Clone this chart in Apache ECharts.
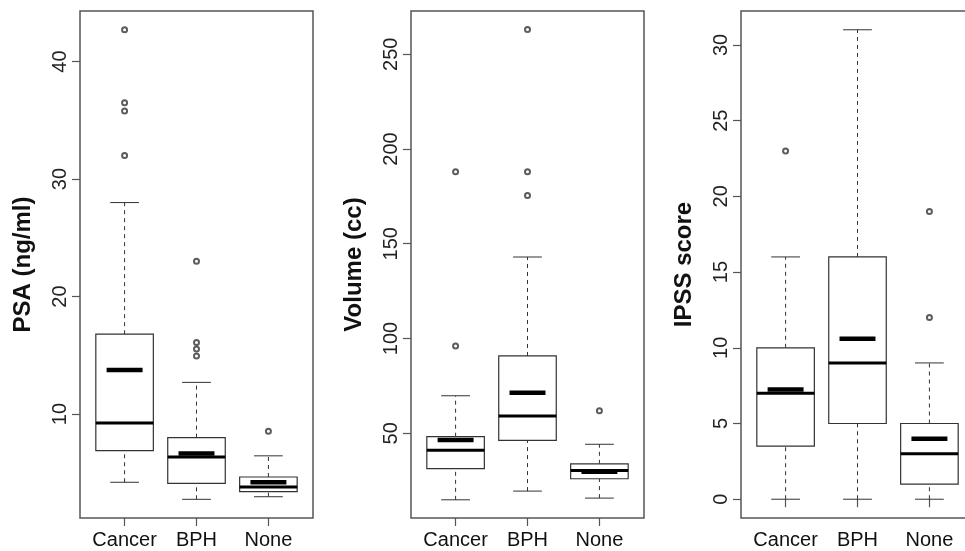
<!DOCTYPE html>
<html>
<head>
<meta charset="utf-8">
<title>PSA, Volume, IPSS</title>
<script src="https://cdn.jsdelivr.net/npm/echarts@6/dist/echarts.min.js"></script>
<style>
	html, body { margin: 0; padding: 0; background: #fff; }
	#chart { width: 965px; height: 551px; }
</style>
</head>
<body>
<div id="chart"></div>
<script>
var categories = ['Cancer', 'BPH', 'None'];

// PSA (ng/ml)
var psaLow = [4.2, 2.75, 2.97];
var psaQ1 = [6.9, 4.1, 3.4];
var psaMedian = [9.25, 6.35, 3.8];
var psaQ3 = [16.8, 8.0, 4.65];
var psaHigh = [28.0, 12.7, 6.45];
var psaMean = [13.75, 6.65, 4.2];
var psaOutliers = [[1, 42.7], [1, 36.5], [1, 35.8], [1, 32.0], [2, 23.0], [2, 16.1], [2, 15.55], [2, 14.95], [3, 8.55]];
var psaTicks = [10, 20, 30, 40];

// Volume (cc)
var volLow = [14.9, 19.5, 15.8];
var volQ1 = [31.3, 46.3, 26.0];
var volMedian = [41.0, 59.1, 30.4];
var volQ3 = [48.2, 90.8, 33.9];
var volHigh = [69.8, 143.0, 44.2];
var volMean = [46.4, 71.4, 29.7];
var volOutliers = [[1, 188], [1, 96], [2, 263], [2, 188], [2, 175.4], [3, 61.9]];
var volTicks = [50, 100, 150, 200, 250];

// IPSS score
var ipssLow = [0, 0, 0];
var ipssQ1 = [3.5, 5, 1];
var ipssMedian = [7, 9, 3];
var ipssQ3 = [10, 16, 5];
var ipssHigh = [16, 31, 9];
var ipssMean = [7.25, 10.6, 4.0];
var ipssOutliers = [[1, 23], [3, 19], [3, 12]];
var ipssTicks = [0, 5, 10, 15, 20, 25, 30];

;(function () {
	var FONT = '"Liberation Sans", Arial, sans-serif';
	var panels = [
		{name: 'PSA (ng/ml)', left: 80, min: 1.16, max: 44.3, ticks: psaTicks,
			low: psaLow, q1: psaQ1, med: psaMedian, q3: psaQ3, high: psaHigh, mean: psaMean, out: psaOutliers},
		{name: 'Volume (cc)', left: 411, min: 5.3, max: 272.8, ticks: volTicks,
			low: volLow, q1: volQ1, med: volMedian, q3: volQ3, high: volHigh, mean: volMean, out: volOutliers},
		{name: 'IPSS score', left: 741, min: -1.24, max: 32.24, ticks: ipssTicks,
			low: ipssLow, q1: ipssQ1, med: ipssMedian, q3: ipssQ3, high: ipssHigh, mean: ipssMean, out: ipssOutliers}
	];

	var renderBox = function (params, api) {
		var x = api.value(0);
		var lo = api.value(1), q1 = api.value(2), med = api.value(3), q3 = api.value(4), hi = api.value(5), mean = api.value(6);
		var line = function (x1, y1, x2, y2, style) {
			var a = api.coord([x1, y1]), b = api.coord([x2, y2]);
			return {type: 'line', shape: {x1: a[0], y1: a[1], x2: b[0], y2: b[1]}, style: style};
		};
		var dash = {stroke: '#333', lineWidth: 1, lineDash: [4, 4]};
		var thin = {stroke: '#333', lineWidth: 1};
		var tl = api.coord([x - 0.4, q3]), br = api.coord([x + 0.4, q1]);
		return {
			type: 'group',
			children: [
				line(x, q3, x, hi, dash),
				line(x, lo, x, q1, dash),
				line(x - 0.2, hi, x + 0.2, hi, thin),
				line(x - 0.2, lo, x + 0.2, lo, thin),
				{type: 'rect', shape: {x: tl[0], y: tl[1], width: br[0] - tl[0], height: br[1] - tl[1]},
					style: {fill: '#fff', stroke: '#333', lineWidth: 1.2}},
				line(x - 0.4, med, x + 0.4, med, {stroke: '#000', lineWidth: 3}),
				line(x - 0.25, mean, x + 0.25, mean, {stroke: '#000', lineWidth: 4.5})
			]
		};
	};

	var grid = [], xAxis = [], yAxis = [], series = [];
	for (var i = 0; i < panels.length; i++) {
		var p = panels[i];
		grid.push({left: p.left, top: 11, width: 233, height: 507, show: true, outerBoundsMode: 'none',
			borderColor: '#555', borderWidth: 1.5, backgroundColor: 'transparent'});
		xAxis.push({
			type: 'value', gridIndex: i, min: 0.38, max: 3.62,
			axisLine: {show: false},
			splitLine: {show: false},
			axisTick: {show: true, length: 8, customValues: [1, 2, 3], lineStyle: {color: '#555', width: 1.2}},
			axisLabel: {show: true, customValues: [1, 2, 3], margin: 12, color: '#111', fontSize: 20, fontFamily: FONT,
				formatter: function (v) { return categories[Math.round(v) - 1]; }}
		});
		yAxis.push({
			type: 'value', gridIndex: i, min: p.min, max: p.max,
			name: p.name, nameLocation: 'middle', nameRotate: 90, nameGap: 45,
			nameTextStyle: {fontSize: 24, fontWeight: 'bold', color: '#111', fontFamily: FONT},
			axisLine: {show: false},
			splitLine: {show: false},
			axisTick: {show: true, length: 8, customValues: p.ticks, lineStyle: {color: '#555', width: 1.2}},
			axisLabel: {show: true, customValues: p.ticks, rotate: 90, margin: 10, color: '#222', fontSize: 20, fontFamily: FONT}
		});
		var rows = [];
		for (var j = 0; j < categories.length; j++) {
			rows.push([j + 1, p.low[j], p.q1[j], p.med[j], p.q3[j], p.high[j], p.mean[j]]);
		}
		series.push({
			type: 'custom', xAxisIndex: i, yAxisIndex: i,
			renderItem: renderBox, data: rows, silent: true,
			encode: {x: 0, y: [1, 2, 3, 4, 5, 6]}
		});
		series.push({
			type: 'scatter', xAxisIndex: i, yAxisIndex: i, data: p.out, silent: true,
			symbol: 'emptyCircle', symbolSize: 5, z: 5,
			itemStyle: {color: '#333', borderColor: '#333', borderWidth: 1}
		});
	}

	var chart = echarts.init(document.getElementById('chart'));
	chart.setOption({
		animation: false,
		backgroundColor: '#fff',
		grid: grid,
		xAxis: xAxis,
		yAxis: yAxis,
		series: series
	});
})();
</script>
</body>
</html>
